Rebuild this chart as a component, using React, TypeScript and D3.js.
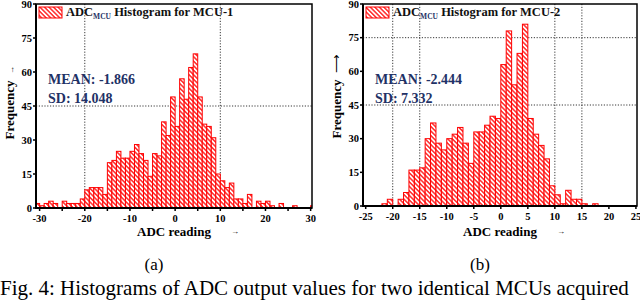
import * as d3 from "d3";

// histogram bins are 1 ADC unit wide; arrays hold counts starting at the first left edge
const startA = -31;
const countsA = [
  2, 1, 2, 3, 2, 0, 3, 2, 2, 2, 4, 8, 9, 9, 9, 6, 20, 21, 25, 22, 22, 25, 28, 24, 21, 14, 24, 23, 38, 32,
  49, 36, 57, 48, 62, 68, 49, 37, 36, 31, 15, 12, 9, 11, 4, 4, 2, 6, 0, 3, 2, 3, 1, 0, 2, 0, 0, 1, 0, 0, 0, 1,
];
const startB = -22;
const countsB = [
  1, 3, 0, 3, 6, 16, 16, 17, 30, 37, 28, 25, 30, 32, 35, 28, 19, 33, 33, 36, 40, 39, 63, 78, 54, 68, 81, 39,
  32, 27, 21, 9, 5, 1, 7, 3, 3, 1, 0, 1,
];

const yTicks = [0, 15, 30, 45, 60, 75, 90];
const xTicksA = [-30, -20, -10, 0, 10, 20, 30];
const xMinorA = [-25, -15, -5, 5, 15, 25];
const xTicksB = [-25, -20, -15, -10, -5, 0, 5, 10, 15, 20, 25];

const statsA = { mean: "MEAN: -1.866", sd: "SD: 14.048", name: "MCU-1" };
const statsB = { mean: "MEAN: -2.444", sd: "SD: 7.332", name: "MCU-2" };

const FONT = "'Liberation Serif', 'Times New Roman', serif";
const NAVY = "#1f3266";

type PanelProps = {
  id: string;
  start: number;
  counts: number[];
  left: number;
  right: number;
  top: number;
  bottom: number;
  xDomain: [number, number];
  xTicks: number[];
  xMinor: number[];
  gridX: number[];
  gridY: number[];
  stats: { mean: string; sd: string; name: string };
  caption: string;
};

function Panel(p: PanelProps) {
  const x = d3.scaleLinear().domain(p.xDomain).range([p.left, p.right]);
  const y = d3.scaleLinear().domain([0, 90]).range([p.bottom, p.top]);
  const bins = p.counts.map((c, i) => ({ x0: p.start + i, x1: p.start + i + 1, c }));
  const cx = (p.left + p.right) / 2;

  return (
    <g>
      <defs>
        <clipPath id={`clip-${p.id}`}>
          <rect x={p.left} y={p.top} width={p.right - p.left} height={p.bottom - p.top} />
        </clipPath>
      </defs>

      {/* dotted grid */}
      {p.gridX.map((v) => (
        <line key={"gx" + v} x1={x(v)} x2={x(v)} y1={p.top} y2={p.bottom} stroke="#222" strokeWidth={0.9} strokeDasharray="1.2,1.6" />
      ))}
      {p.gridY.map((v) => (
        <line key={"gy" + v} x1={p.left} x2={p.right} y1={y(v)} y2={y(v)} stroke="#222" strokeWidth={0.9} strokeDasharray="1.2,1.6" />
      ))}

      {/* bars */}
      <g clipPath={`url(#clip-${p.id})`}>
        {bins
          .filter((b) => b.c > 0)
          .map((b) => (
            <rect
              key={b.x0}
              x={x(b.x0)}
              y={y(b.c)}
              width={x(b.x1) - x(b.x0)}
              height={y(0) - y(b.c)}
              fill="url(#hatch)"
              stroke="#ff0000"
              strokeWidth={1}
            />
          ))}
      </g>

      {/* frame */}
      <rect x={p.left} y={p.top} width={p.right - p.left} height={p.bottom - p.top} fill="none" stroke="#000" strokeWidth={1.5} />
      <line x1={p.left} x2={p.left} y1={p.top} y2={p.bottom + 1} stroke="#000" strokeWidth={2} />
      <line x1={p.left - 1} x2={p.right} y1={p.bottom} y2={p.bottom} stroke="#000" strokeWidth={2} />

      {/* y axis */}
      {yTicks.map((t) => (
        <g key={"yt" + t}>
          <line x1={p.left - 3} x2={p.left} y1={y(t)} y2={y(t)} stroke="#000" strokeWidth={1.5} />
          <text x={p.left - 4} y={y(t) + 3.5} textAnchor="end" fontSize={10.5} fontWeight="bold" fontFamily={FONT}>
            {t}
          </text>
        </g>
      ))}

      {/* x axis */}
      {p.xMinor.map((t) => (
        <line key={"xm" + t} x1={x(t)} x2={x(t)} y1={p.bottom} y2={p.bottom + 3} stroke="#000" strokeWidth={1.5} />
      ))}
      {p.xTicks.map((t) => (
        <g key={"xt" + t}>
          <line x1={x(t)} x2={x(t)} y1={p.bottom} y2={p.bottom + 3} stroke="#000" strokeWidth={1.5} />
          <text x={x(t)} y={p.bottom + 14} textAnchor="middle" fontSize={10.5} fontWeight="bold" fontFamily={FONT}>
            {t}
          </text>
        </g>
      ))}

      {/* axis titles */}
      <text x={cx} y={236} textAnchor="middle" fontSize={13} fontWeight="bold" fontFamily={FONT}>
        ADC reading
      </text>
      <text x={cx + 57} y={234} fontSize={8} fontFamily={FONT}>
        →
      </text>
      <text
        transform={`translate(${p.left - 22},${(p.top + p.bottom) / 2 + 4}) rotate(-90)`}
        textAnchor="middle"
        fontSize={13}
        fontWeight="bold"
        fontFamily={FONT}
      >
        Frequency
      </text>
      <text transform={`translate(${p.left - 22},${(p.top + p.bottom) / 2 - 32}) rotate(-90)`} fontSize={p.id === "b" ? 13 : 8} fontFamily={FONT}>
        {p.id === "b" ? "⟶" : "→"}
      </text>

      {/* legend */}
      <rect x={p.left + 3} y={p.top + 3} width={23} height={11} fill="url(#hatch)" stroke="#ff0000" strokeWidth={1} />
      <text x={p.left + 30} y={p.top + 12} fontSize={12.5} fontWeight="bold" fontFamily={FONT} fill="#111">
        ADC
        <tspan fontSize={7.5} dy={3} fill={NAVY}>
          MCU
        </tspan>
        <tspan dy={-3}> Histogram for {p.stats.name}</tspan>
      </text>

      {/* stats */}
      <text x={p.left + 12} y={p.top + 80} fontSize={14} fontWeight="bold" fontFamily={FONT} fill={NAVY}>
        {p.stats.mean}
      </text>
      <text x={p.left + 12} y={p.top + 99} fontSize={14} fontWeight="bold" fontFamily={FONT} fill={NAVY}>
        {p.stats.sd}
      </text>

      <text x={cx - 20} y={270} textAnchor="middle" fontSize={17} fontFamily={FONT}>
        {p.caption}
      </text>
    </g>
  );
}

export default function App() {
  return (
    <svg width={640} height={300} style={{ position: "absolute", left: 0, top: 0, background: "#fff" }}>
      <defs>
        <pattern id="hatch" patternUnits="userSpaceOnUse" width={3.2} height={3.2} patternTransform="rotate(-45)">
          <rect width={3.2} height={3.2} fill="#fff" />
          <line x1={0.8} y1={0} x2={0.8} y2={3.2} stroke="#ff2a2a" strokeWidth={1.5} />
        </pattern>
      </defs>
      <rect width={640} height={300} fill="#fff" />
      <Panel
        id="a"
        start={startA}
        counts={countsA}
        left={36}
        right={312}
        top={4}
        bottom={208}
        xDomain={[-30.8, 30.3]}
        xTicks={xTicksA}
        xMinor={xMinorA}
        gridX={[-20, 10]}
        gridY={[45]}
        stats={statsA}
        caption="(a)"
      />
      <Panel
        id="b"
        start={startB}
        counts={countsB}
        left={363}
        right={637}
        top={4}
        bottom={206}
        xDomain={[-25.5, 25.2]}
        xTicks={xTicksB}
        xMinor={[]}
        gridX={[-20, -15, 10, 15]}
        gridY={[45, 75]}
        stats={statsB}
        caption="(b)"
      />
      <text x={0} y={295} fontSize={21} fontFamily={FONT}>
        Fig. 4: Histograms of ADC output values for two identical MCUs acquired
      </text>
    </svg>
  );
}
